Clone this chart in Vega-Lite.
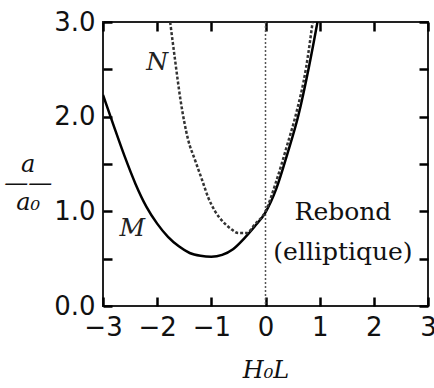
{
  "$schema": "https://vega.github.io/schema/vega-lite/v6.json",
  "width": 325,
  "height": 284,
  "autosize": "none",
  "padding": {"left": 103, "top": 22, "right": 6, "bottom": 82},
  "background": "white",
  "config": {
    "view": {"stroke": "#222", "strokeWidth": 2},
    "axis": {
      "grid": false,
      "domain": false,
      "labelFont": "DejaVu Sans",
      "labelFontSize": 26,
      "labelColor": "#111",
      "titleFont": "DejaVu Serif",
      "titleFontStyle": "italic",
      "titleFontWeight": "normal",
      "titleFontSize": 24,
      "titleColor": "#111"
    }
  },
  "layer": [
    {
      "data": {"values": [{"x": 0}]},
      "mark": {"type": "rule", "color": "#555", "strokeWidth": 1.5, "strokeDash": [2, 2]},
      "encoding": {
        "x": {"field": "x", "type": "quantitative", "scale": {"domain": [-3, 3], "nice": false, "zero": false},
          "axis": {"orient": "bottom", "values": [-3, -2, -1, 0, 1, 2, 3], "ticks": true, "tickSize": 9, "tickColor": "#000", "tickWidth": 2.5, "offset": -9, "labelPadding": 8, "labelFlush": false, "title": "H₀L", "titlePadding": 18}}
      }
    },
    {
      "data": {"values": [
        {"x": -3, "y": 2.23}, {"x": -2.8, "y": 1.9}, {"x": -2.6, "y": 1.58}, {"x": -2.4, "y": 1.29},
        {"x": -2.2, "y": 1.05}, {"x": -2.0, "y": 0.87}, {"x": -1.8, "y": 0.73}, {"x": -1.6, "y": 0.63},
        {"x": -1.4, "y": 0.56}, {"x": -1.2, "y": 0.53}, {"x": -1.0, "y": 0.52}, {"x": -0.8, "y": 0.54},
        {"x": -0.6, "y": 0.6}, {"x": -0.4, "y": 0.71}, {"x": -0.2, "y": 0.84}, {"x": 0, "y": 0.99},
        {"x": 0.2, "y": 1.24}, {"x": 0.4, "y": 1.6}, {"x": 0.61, "y": 2.02}, {"x": 0.8, "y": 2.52},
        {"x": 0.96, "y": 3.0}
      ]},
      "mark": {"type": "line", "color": "#000", "strokeWidth": 2.5, "interpolate": "monotone", "clip": true},
      "encoding": {
        "x": {"field": "x", "type": "quantitative", "axis": {"orient": "top", "values": [-3, -2, -1, 0, 1, 2, 3], "ticks": true, "tickSize": 9, "tickColor": "#000", "tickWidth": 2.5, "offset": -9, "labels": false, "title": null}},
        "y": {"field": "y", "type": "quantitative", "scale": {"domain": [0, 3], "nice": false},
          "axis": {"orient": "left", "values": [0, 0.5, 1, 1.5, 2, 2.5, 3], "ticks": true, "tickSize": 9, "tickColor": "#000", "tickWidth": 2.5, "offset": -9, "labelExpr": "datum.value % 1 == 0 ? format(datum.value, '.1f') : ''", "labelPadding": 8, "labelFlush": false,
            "title": ["a", "——", "a₀"], "titleAngle": 0, "titleAlign": "center", "titleBaseline": "middle", "titleLineHeight": 19, "titlePadding": -12}}
      }
    },
    {
      "data": {"values": [
        {"x": -1.76, "y": 3.0}, {"x": -1.67, "y": 2.6}, {"x": -1.57, "y": 2.18}, {"x": -1.43, "y": 1.76},
        {"x": -1.3, "y": 1.54}, {"x": -1.17, "y": 1.33}, {"x": -1.06, "y": 1.15}, {"x": -0.93, "y": 1.0},
        {"x": -0.8, "y": 0.9}, {"x": -0.65, "y": 0.82}, {"x": -0.5, "y": 0.77}, {"x": -0.35, "y": 0.77},
        {"x": -0.2, "y": 0.86}, {"x": 0, "y": 1.0}, {"x": 0.2, "y": 1.32}, {"x": 0.4, "y": 1.7},
        {"x": 0.56, "y": 2.02}, {"x": 0.75, "y": 2.52}, {"x": 0.87, "y": 3.0}
      ]},
      "mark": {"type": "line", "color": "#333", "strokeWidth": 2.5, "strokeDash": [3, 2], "interpolate": "monotone", "clip": true},
      "encoding": {
        "x": {"field": "x", "type": "quantitative", "axis": null},
        "y": {"field": "y", "type": "quantitative", "axis": {"orient": "right", "values": [0, 0.5, 1, 1.5, 2, 2.5, 3], "ticks": true, "tickSize": 9, "tickColor": "#000", "tickWidth": 2.5, "offset": -9, "labels": false, "title": null}}
      }
    },
    {
      "data": {"values": [
        {"x": -2.0, "y": 2.58, "label": "N"},
        {"x": -2.46, "y": 0.82, "label": "M"}
      ]},
      "mark": {"type": "text", "font": "DejaVu Serif", "fontStyle": "italic", "fontSize": 25, "color": "#222", "align": "center", "baseline": "middle"},
      "encoding": {
        "x": {"field": "x", "type": "quantitative", "axis": null},
        "y": {"field": "y", "type": "quantitative", "axis": null},
        "text": {"field": "label"}
      }
    },
    {
      "data": {"values": [
        {"x": 1.43, "y": 0.99, "label": "Rebond"},
        {"x": 1.43, "y": 0.575, "label": "(elliptique)"}
      ]},
      "mark": {"type": "text", "font": "DejaVu Serif", "fontSize": 25, "color": "#111", "align": "center", "baseline": "middle"},
      "encoding": {
        "x": {"field": "x", "type": "quantitative", "axis": null},
        "y": {"field": "y", "type": "quantitative", "axis": null},
        "text": {"field": "label"}
      }
    }
  ],
  "resolve": {"axis": {"x": "independent", "y": "independent"}}
}
